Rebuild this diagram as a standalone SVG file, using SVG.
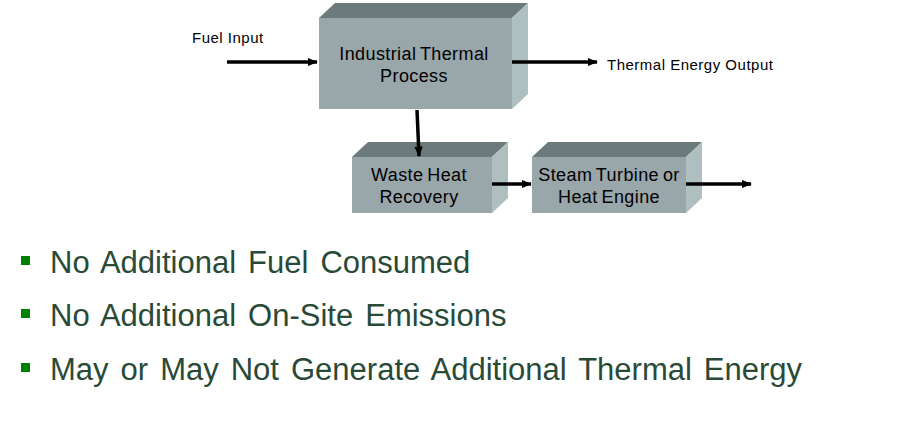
<svg xmlns="http://www.w3.org/2000/svg" width="920" height="421" viewBox="0 0 920 421">
<defs>
<style>
.front{fill:#9aa7aa;}
.top{fill:#6d7a7b;}
.side{fill:#afbfc0;}
.lbl{font-family:"Liberation Sans",Arial,sans-serif;font-size:18px;fill:#000;text-anchor:middle;letter-spacing:0.4px;word-spacing:-1.5px;}
.sm{font-family:"Liberation Sans",Arial,sans-serif;font-size:15px;fill:#000;letter-spacing:0.5px;}
.bul{font-family:"Liberation Sans",Arial,sans-serif;font-size:31px;fill:#2a4a38;word-spacing:3.4px;}
.conn{stroke:#000;stroke-width:3.5;fill:none;marker-end:url(#ah);}
</style>
<marker id="ah" viewBox="0 0 10 10" refX="9" refY="5" markerWidth="3" markerHeight="3" orient="auto" markerUnits="strokeWidth">
<path d="M0,1 L10,5 L0,9 z" fill="#000"/>
</marker>
</defs>
<rect width="920" height="421" fill="#fff"/>
<g id="industrial">
<polygon class="top" points="319,18 335,3 528,3 512,18"/>
<polygon class="side" points="512,18 528,3 528,94 512,109"/>
<rect class="front" x="319" y="18" width="193" height="91"/>
<text class="lbl" x="414" y="60">Industrial Thermal</text>
<text class="lbl" x="414" y="82">Process</text>
</g>
<g id="waste">
<polygon class="top" points="352,157 368,142 508,142 492,157"/>
<polygon class="side" points="492,157 508,142 508,198 492,213"/>
<rect class="front" x="352" y="157" width="140" height="56"/>
<text class="lbl" x="419" y="181">Waste Heat</text>
<text class="lbl" x="419" y="203">Recovery</text>
</g>
<g id="steam">
<polygon class="top" points="532,157 548,142 702,142 686,157"/>
<polygon class="side" points="686,157 702,142 702,198 686,213"/>
<rect class="front" x="532" y="157" width="154" height="56"/>
<text class="lbl" x="609" y="181">Steam Turbine or</text>
<text class="lbl" x="609" y="203">Heat Engine</text>
</g>
<g id="labels">
<text class="sm" x="192" y="43">Fuel Input</text>
<text class="sm" x="607" y="70">Thermal Energy Output</text>
</g>
<g id="connectors">
<line class="conn" x1="227" y1="62" x2="317" y2="62"/>
<line class="conn" x1="512" y1="62" x2="597" y2="62"/>
<line class="conn" x1="417" y1="110" x2="419" y2="156"/>
<line class="conn" x1="492" y1="184" x2="531" y2="184"/>
<line class="conn" x1="686" y1="184" x2="751" y2="184"/>
</g>
<g id="bullets">
<rect x="21" y="256" width="9" height="9" fill="#008000"/>
<rect x="21" y="309" width="9" height="9" fill="#008000"/>
<rect x="21" y="363" width="9" height="9" fill="#008000"/>
<text class="bul" x="50" y="273">No Additional Fuel Consumed</text>
<text class="bul" x="50" y="326">No Additional On-Site Emissions</text>
<text class="bul" x="50" y="380">May or May Not Generate Additional Thermal Energy</text>
</g>
</svg>
